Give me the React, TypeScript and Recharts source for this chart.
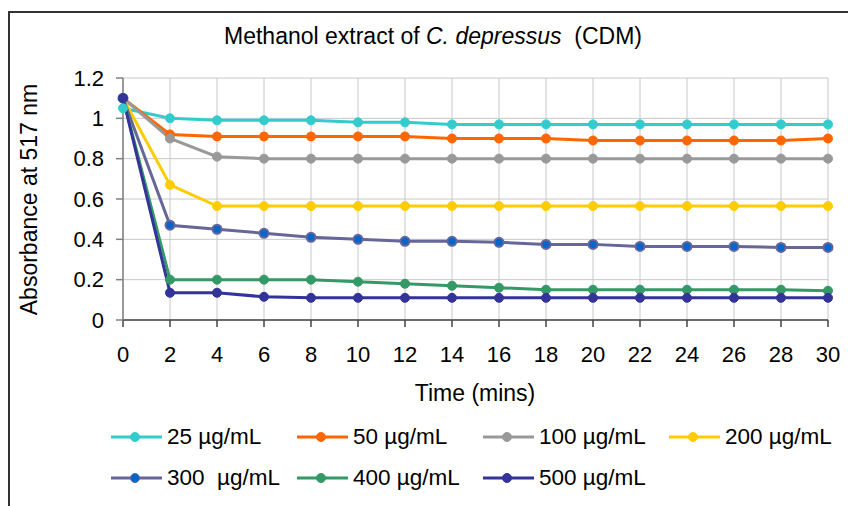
import React from 'react';
import { LineChart, Line, XAxis, YAxis, CartesianGrid } from 'recharts';

// time points (mins)
const times = [0, 2, 4, 6, 8, 10, 12, 14, 16, 18, 20, 22, 24, 26, 28, 30];

// absorbance at 517 nm per concentration
const c25 = [1.05, 1.0, 0.99, 0.99, 0.99, 0.98, 0.98, 0.97, 0.97, 0.97, 0.97, 0.97, 0.97, 0.97, 0.97, 0.97];
const c50 = [1.1, 0.92, 0.91, 0.91, 0.91, 0.91, 0.91, 0.9, 0.9, 0.9, 0.89, 0.89, 0.89, 0.89, 0.89, 0.9];
const c100 = [1.1, 0.9, 0.81, 0.8, 0.8, 0.8, 0.8, 0.8, 0.8, 0.8, 0.8, 0.8, 0.8, 0.8, 0.8, 0.8];
const c200 = [1.1, 0.67, 0.565, 0.565, 0.565, 0.565, 0.565, 0.565, 0.565, 0.565, 0.565, 0.565, 0.565, 0.565, 0.565, 0.565];
const c300 = [1.1, 0.47, 0.45, 0.43, 0.41, 0.4, 0.39, 0.39, 0.385, 0.375, 0.375, 0.365, 0.365, 0.365, 0.36, 0.36];
const c400 = [1.1, 0.2, 0.2, 0.2, 0.2, 0.19, 0.18, 0.17, 0.16, 0.15, 0.15, 0.15, 0.15, 0.15, 0.15, 0.145];
const c500 = [1.1, 0.135, 0.135, 0.115, 0.11, 0.11, 0.11, 0.11, 0.11, 0.11, 0.11, 0.11, 0.11, 0.11, 0.11, 0.11];

const seriesNames = ['25 µg/mL', '50 µg/mL', '100 µg/mL', '200 µg/mL', '300  µg/mL', '400 µg/mL', '500 µg/mL'];
const seriesKeys = ['c25', 'c50', 'c100', 'c200', 'c300', 'c400', 'c500'];

const xTicks = [0, 2, 4, 6, 8, 10, 12, 14, 16, 18, 20, 22, 24, 26, 28, 30];
const yTicks = [0, 0.2, 0.4, 0.6, 0.8, 1, 1.2];

// line colour / marker colour per series
const styles = [
    { line: '#33CCCC', dot: '#33CCCC' },
    { line: '#FF6600', dot: '#FF6600' },
    { line: '#999999', dot: '#999999' },
    { line: '#FFCC00', dot: '#FFCC00' },
    { line: '#666699', dot: '#0066CC' },
    { line: '#339966', dot: '#339966' },
    { line: '#333399', dot: '#333399' },
];

const FONT = '"Liberation Sans", Arial, sans-serif';

const data = times.map((t, i) => ({
    time: t,
    c25: c25[i],
    c50: c50[i],
    c100: c100[i],
    c200: c200[i],
    c300: c300[i],
    c400: c400[i],
    c500: c500[i],
}));

const LegendIcon = ({ line, dot }: { line: string; dot: string }) => (
    <svg width={51} height={12} style={{ display: 'block' }}>
        <line x1={0} y1={6} x2={51} y2={6} stroke={line} strokeWidth={3} />
        <circle cx={24} cy={6} r={4.5} fill={dot} stroke={line} strokeWidth={1} />
    </svg>
);

const App: React.FC = () => {
    return (
        <div style={{ position: 'absolute', left: 0, top: 0, width: 848, height: 506, background: '#fff', overflow: 'hidden', fontFamily: FONT }}>
            {/* chart frame (cropped at right/bottom) */}
            <div style={{ position: 'absolute', left: 8, top: 11, width: 900, height: 600, borderLeft: '2px solid #333', borderTop: '2px solid #333' }} />

            {/* title */}
            <div style={{ position: 'absolute', left: 133, width: 600, top: 24.5, fontSize: 23, lineHeight: 1, textAlign: 'center', whiteSpace: 'pre', color: '#000' }}>
                Methanol extract of <i>C. depressus</i>  (CDM)
            </div>

            <div style={{ position: 'absolute', left: 0, top: 0 }}>
                <LineChart width={848} height={506} data={data} margin={{ top: 78, right: 20, left: 43, bottom: 126 }}>
                    <CartesianGrid stroke="#c8c8c8" strokeWidth={1} />
                    <XAxis
                        type="number"
                        dataKey="time"
                        domain={[0, 30]}
                        ticks={xTicks}
                        interval={0}
                        height={60}
                        tickSize={7}
                        tickMargin={19}
                        axisLine={{ stroke: '#444', strokeWidth: 1.5 }}
                        tickLine={{ stroke: '#444', strokeWidth: 1.5 }}
                        tick={{ fill: '#000', fontSize: 22, fontFamily: FONT }}
                    />
                    <YAxis
                        type="number"
                        domain={[0, 1.2]}
                        ticks={yTicks}
                        interval={0}
                        width={80}
                        tickSize={7}
                        tickMargin={12}
                        axisLine={{ stroke: '#808080', strokeWidth: 1.5 }}
                        tickLine={{ stroke: '#808080', strokeWidth: 1.5 }}
                        tick={{ fill: '#000', fontSize: 22, fontFamily: FONT }}
                    />
                    {seriesKeys.map((k, i) => (
                        <Line
                            key={k}
                            type="linear"
                            dataKey={k}
                            name={seriesNames[i]}
                            stroke={styles[i].line}
                            strokeWidth={3}
                            dot={{ r: 4.5, fill: styles[i].dot, stroke: styles[i].line, strokeWidth: i === 4 ? 2 : 1, fillOpacity: 1 }}
                            activeDot={false}
                            isAnimationActive={false}
                        />
                    ))}
                </LineChart>
            </div>

            {/* y axis title */}
            <div style={{ position: 'absolute', left: 28.7 - 150, top: 199 - 11.5, width: 300, fontSize: 23, lineHeight: '23px', textAlign: 'center', transform: 'rotate(-90deg)', color: '#000' }}>
                Absorbance at 517 nm
            </div>

            {/* x axis title */}
            <div style={{ position: 'absolute', left: 325, width: 300, top: 381.5, fontSize: 23, lineHeight: '23px', textAlign: 'center', color: '#000' }}>
                Time (mins)
            </div>

            {/* legend */}
            <div style={{ position: 'absolute', left: 111, top: 437 - 20.5, display: 'grid', gridTemplateColumns: '186px 186px 186px 186px', gridAutoRows: '41px' }}>
                {seriesNames.map((n, i) => (
                    <div key={n} style={{ display: 'flex', alignItems: 'center' }}>
                        <LegendIcon line={styles[i].line} dot={styles[i].dot} />
                        <span style={{ marginLeft: 5, fontSize: 22.5, whiteSpace: 'pre', color: '#000' }}>{n}</span>
                    </div>
                ))}
            </div>
        </div>
    );
};

export default App;
